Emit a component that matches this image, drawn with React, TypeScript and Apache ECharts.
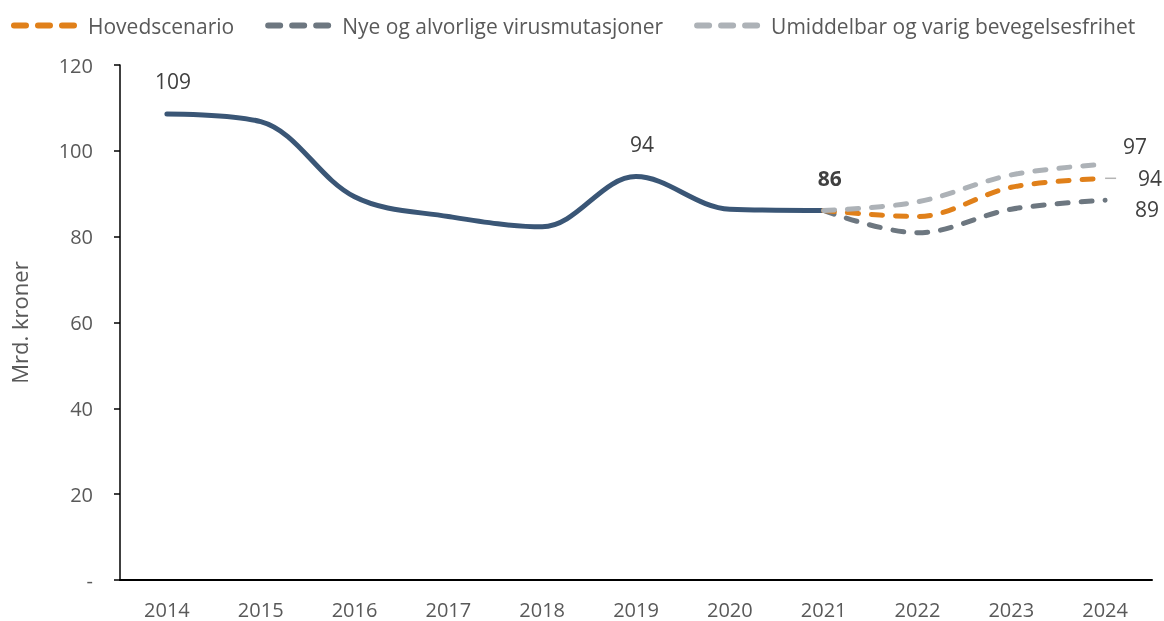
import React, { useEffect, useRef } from "react";
import * as echarts from "echarts";

const years = ["2014", "2015", "2016", "2017", "2018", "2019", "2020", "2021", "2022", "2023", "2024"];
const historical = [108.6, 106.8, 89.3, 84.7, 82.3, 94.0, 86.4, 86.1, null, null, null];
const hovedscenario = [null, null, null, null, null, null, null, 86.1, 84.7, 91.5, 93.6];
const virusmutasjoner = [null, null, null, null, null, null, null, 86.1, 80.9, 86.4, 88.5];
const bevegelsesfrihet = [null, null, null, null, null, null, null, 86.1, 88.1, 94.4, 96.9];
const yTicks = [0, 20, 40, 60, 80, 100, 120];
const histLabelIdx = [0, 5, 7];

const FONT = "'Open Sans', 'Noto Sans', sans-serif";
const NAVY = "#3a5676";
const ORANGE = "#e0801a";
const DARK = "#6d7780";
const LIGHT = "#adb2b7";
const TEXT = "#404040";
const DASH_ICON = "path://M3,0H15A3,3,0,0,1,15,6H3A3,3,0,0,1,3,0Z M27,0H39A3,3,0,0,1,39,6H27A3,3,0,0,1,27,0Z M51,0H63A3,3,0,0,1,63,6H51A3,3,0,0,1,51,0Z";

export default function App() {
  const ref = useRef<HTMLDivElement>(null);
  useEffect(() => {
    if (!ref.current) return;
    const chart = echarts.init(ref.current, undefined, { renderer: "svg" });
    const dash = { type: [11, 13] as any, cap: "round" as const, width: 5 };
    const SM = 0.35;
    const histData = historical.map((v, i) => {
      if (histLabelIdx.includes(i)) {
        return {
          value: v,
          symbol: "circle",
          symbolSize: 0,
          label: {
            show: true,
            position: "top",
            distance: 22,
            offset: [6, 0],
            fontSize: 21,
            color: TEXT,
            fontFamily: FONT,
            fontWeight: i === 7 ? "bold" : "normal",
            formatter: () => String(Math.round(v as number)),
          },
        };
      }
      return v;
    });
    const endLabel = (arr: (number | null)[], offset: number[], prefix = "") =>
      arr.map((v, i) =>
        i === arr.length - 1
          ? {
              value: v,
              symbol: "circle",
              symbolSize: 0,
              label: {
                show: true,
                position: "right",
                distance: 0,
                offset,
                fontSize: 21,
                color: TEXT,
                fontFamily: FONT,
                formatter: () => prefix + String(Math.round(v as number)),
              },
            }
          : v
      );
    chart.setOption({
      animation: false,
      textStyle: { fontFamily: FONT },
      legend: {
        left: 6,
        top: 10,
        itemWidth: 66,
        itemHeight: 6,
        itemGap: 31,
        textStyle: { fontSize: 21, color: "#595959", fontFamily: FONT, padding: [0, 0, 0, 6] },
        data: [
          { name: "Hovedscenario", icon: DASH_ICON, itemStyle: { color: ORANGE } },
          { name: "Nye og alvorlige virusmutasjoner", icon: DASH_ICON, itemStyle: { color: DARK } },
          { name: "Umiddelbar og varig bevegelsesfrihet", icon: DASH_ICON, itemStyle: { color: LIGHT } },
        ],
      },
      grid: { left: 118, right: 12, top: 65, bottom: 41, containLabel: false },
      xAxis: {
        type: "category",
        data: years,
        boundaryGap: true,
        axisLine: { lineStyle: { color: "#000", width: 2 } },
        axisTick: { show: false },
        axisLabel: { fontSize: 20, color: "#595959", margin: 19, fontFamily: FONT },
      },
      yAxis: {
        type: "value",
        min: yTicks[0],
        max: yTicks[yTicks.length - 1],
        interval: 20,
        name: "Mrd. kroner",
        nameLocation: "middle",
        nameGap: 90,
        nameTextStyle: { fontSize: 22, color: "#595959", fontFamily: FONT },
        axisLine: { show: true, lineStyle: { color: "#000", width: 1.5 } },
        axisTick: { show: true, inside: false, length: 6, lineStyle: { color: "#000", width: 1.5 } },
        splitLine: { show: false },
        axisLabel: {
          fontSize: 20,
          color: "#595959",
          margin: 27,
          fontFamily: FONT,
          formatter: (v: number) => (v === 0 ? "-" : String(v)),
        },
      },
      series: [
        {
          name: "Historisk",
          type: "line",
          data: histData,
          smooth: SM,
          symbol: "none",
          showSymbol: true,
          lineStyle: { color: NAVY, width: 5, cap: "round" },
          itemStyle: { color: NAVY },
          z: 2,
        },
        {
          name: "Nye og alvorlige virusmutasjoner",
          type: "line",
          data: endLabel(virusmutasjoner, [30, 9]),
          smooth: SM,
          symbol: "none",
          showSymbol: true,
          lineStyle: { color: DARK, ...dash },
          itemStyle: { color: DARK },
          z: 3,
        },
        {
          name: "Hovedscenario",
          type: "line",
          data: endLabel(hovedscenario, [0, 0], "    "),
          smooth: SM,
          symbol: "none",
          showSymbol: true,
          labelLayout: { dx: 11 },
          labelLine: { show: true, length2: 0, lineStyle: { color: "#b4b4b4", width: 1.5 } },
          lineStyle: { color: ORANGE, ...dash },
          itemStyle: { color: ORANGE },
          z: 4,
        },
        {
          name: "Umiddelbar og varig bevegelsesfrihet",
          type: "line",
          data: endLabel(bevegelsesfrihet, [18, -18]),
          smooth: SM,
          symbol: "none",
          showSymbol: true,
          lineStyle: { color: LIGHT, ...dash },
          itemStyle: { color: LIGHT },
          z: 5,
        },
      ],
    });
    return () => chart.dispose();
  }, []);
  return <div ref={ref} style={{ position: "fixed", left: 0, top: 0, width: 1164, height: 621 }} />;
}
